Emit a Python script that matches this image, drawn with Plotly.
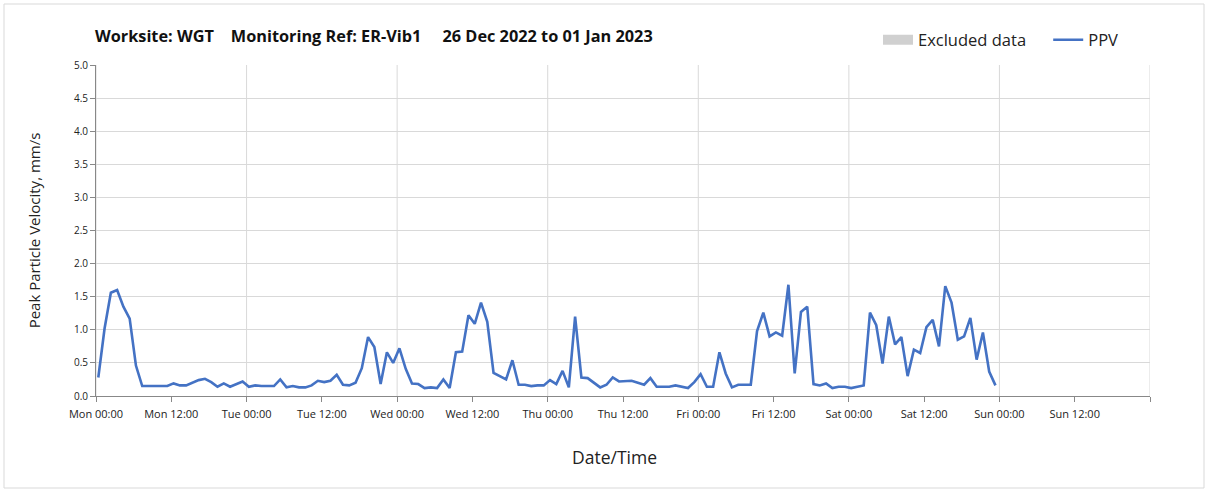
import pandas as pd
import plotly.graph_objects as go

# ---- data ----
start_time = "2022-12-26 00:22"
ppv = [
    0.28, 1.02, 1.56, 1.60, 1.35, 1.17, 0.46, 0.15, 0.15, 0.15, 0.15, 0.15,
    0.19, 0.16, 0.16, 0.20, 0.24, 0.26, 0.21, 0.14, 0.19, 0.14, 0.18, 0.22,
    0.14, 0.16, 0.15, 0.15, 0.15, 0.25, 0.13, 0.15, 0.13, 0.13, 0.16, 0.23,
    0.21, 0.23, 0.32, 0.17, 0.16, 0.20, 0.42, 0.89, 0.74, 0.18, 0.66, 0.50,
    0.72, 0.41, 0.19, 0.18, 0.12, 0.13, 0.12, 0.25, 0.12, 0.66, 0.67, 1.22,
    1.09, 1.41, 1.12, 0.35, 0.30, 0.25, 0.54, 0.17, 0.17, 0.15, 0.16, 0.16,
    0.24, 0.18, 0.38, 0.13, 1.20, 0.28, 0.27, 0.20, 0.13, 0.17, 0.28, 0.22,
    0.22, 0.23, 0.20, 0.17, 0.27, 0.14, 0.14, 0.14, 0.16, 0.14, 0.12, 0.21,
    0.33, 0.14, 0.14, 0.66, 0.34, 0.13, 0.17, 0.17, 0.17, 0.98, 1.26, 0.90,
    0.96, 0.91, 1.68, 0.34, 1.27, 1.35, 0.18, 0.16, 0.19, 0.12, 0.14, 0.14,
    0.12, 0.14, 0.16, 1.26, 1.07, 0.49, 1.20, 0.78, 0.89, 0.30, 0.70, 0.65,
    1.04, 1.15, 0.75, 1.66, 1.41, 0.85, 0.90, 1.18, 0.55, 0.96, 0.37, 0.16,
]
times = pd.date_range(start_time, periods=len(ppv), freq="h")

x_start = pd.Timestamp("2022-12-26 00:00")
x_end = pd.Timestamp("2023-01-02 00:00")
tick_vals = pd.date_range(x_start, x_end, freq="12h")
tick_text = [t.strftime("%a %H:%M") for t in tick_vals[:-1]] + [""]
day_lines = pd.date_range(x_start, x_end, freq="24h")

title_text = ("Worksite: WGT\u00a0\u00a0\u00a0 Monitoring Ref: ER-Vib1"
              "\u00a0\u00a0\u00a0\u00a0 26 Dec 2022 to 01 Jan 2023")

FONT = "Open Sans"
W, H = 1208, 492
L, R, T, B = 96, 58, 65, 96
pw, ph = W - L - R, H - T - B

fig = go.Figure()
fig.add_trace(go.Scatter(
    x=[times[0]], y=[None], mode="lines", name="Excluded data\u00a0\u00a0\u00a0\u00a0",
    line=dict(color="#d0d0d0", width=11), hoverinfo="skip",
))
fig.add_trace(go.Scatter(
    x=times, y=ppv, mode="lines", name="PPV",
    line=dict(color="#4472C4", width=2.6),
))

shapes = []
for d in day_lines:
    shapes.append(dict(type="line", xref="x", yref="paper", x0=d, x1=d, y0=0, y1=1,
                       line=dict(color="#d9d9d9", width=1), layer="below"))
# outer frame
shapes.append(dict(type="rect", xref="paper", yref="paper",
                   x0=(4 - L) / pw, x1=(1204 - L) / pw,
                   y0=(H - B - 488) / ph, y1=(H - B - 4) / ph,
                   line=dict(color="#d9d9d9", width=1)))

fig.update_layout(
    width=W, height=H,
    margin=dict(l=L, r=R, t=T, b=B, autoexpand=False),
    paper_bgcolor="white", plot_bgcolor="white",
    font=dict(family=FONT, color="#222"),
    shapes=shapes,
    showlegend=True,
    legend=dict(orientation="h", x=(1124 - L) / pw, xanchor="right", y=(H - B - 40) / ph,
                yanchor="middle", font=dict(size=16.5, family=FONT, color="#222"),
                itemwidth=30, tracegroupgap=0, bgcolor="rgba(0,0,0,0)"),
    annotations=[
        dict(text="<b>" + title_text + "</b>", xref="paper", yref="paper",
             x=(93 - L) / pw, xanchor="left", y=(H - B - 36) / ph,
             yanchor="middle", showarrow=False,
             font=dict(size=16.3, family=FONT, color="#111")),
        dict(text="Date/Time", xref="paper", yref="paper",
             x=(614 - L) / pw, xanchor="center", y=(H - B - 457) / ph,
             yanchor="middle", showarrow=False,
             font=dict(size=17.5, family=FONT, color="#222")),
    ],
)
fig.update_xaxes(
    type="date",
    range=[x_start, x_end], tickvals=tick_vals, ticktext=tick_text,
    showgrid=False, ticks="outside", ticklen=5, tickcolor="#888",
    showline=True, linecolor="#888", linewidth=1, ticklabelstandoff=3,
    tickfont=dict(size=11, family=FONT, color="#222"),
)
fig.update_yaxes(
    range=[0, 5], dtick=0.5, tickformat=".1f",
    showgrid=True, gridcolor="#d9d9d9", gridwidth=1, zeroline=False,
    ticks="outside", ticklen=5, tickcolor="#888",
    showline=True, linecolor="#888", linewidth=1,
    tickfont=dict(size=10, family=FONT, color="#222"),
    title=dict(text="Peak Particle Velocity, mm/s",
               font=dict(size=15, family=FONT, color="#222"), standoff=29),
)

fig.write_html("out.html", config={"displayModeBar": False},
               post_script="document.body.style.margin='0px';")
